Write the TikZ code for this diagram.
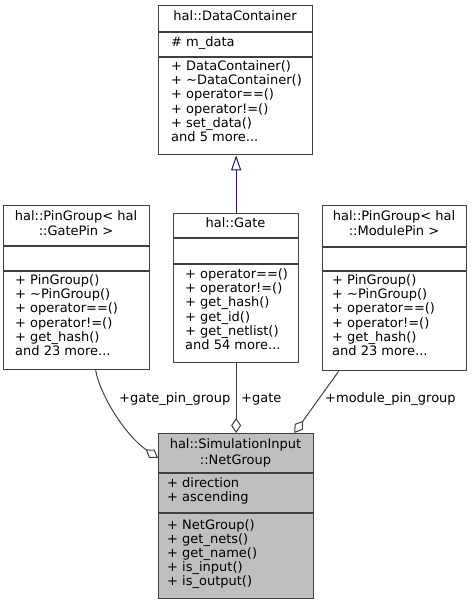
\documentclass[tikz,border=0pt]{standalone}
\usepackage{fontspec}
\newfontfamily\dv{DejaVu Sans}
\usetikzlibrary{arrows.meta}
\definecolor{linec}{HTML}{404040}
\definecolor{inhc}{HTML}{191970}
\definecolor{fillc}{HTML}{BFBFBF}
\newcommand\threedots{...}
\begin{document}
\begin{tikzpicture}[x=1pt,y=-1pt,
  box/.style={draw=linec, line width=1.3pt, inner sep=0, anchor=north west},
  sepline/.style={draw=linec, line width=1.3pt},
  txt/.style={font=\dv\fontsize{13}{14.2}\selectfont, inner sep=0, text=black},
  mem/.style={txt, anchor=mid west},
  ttl/.style={txt, anchor=mid},
  lab/.style={txt, anchor=mid west},
  agg/.style={draw=linec, line width=1pt, arrows={-{Diamond[open,length=15pt,width=10pt,line width=1pt]}}},
  inh/.style={draw=inhc, line width=1pt, arrows={-{Triangle[open,length=15pt,width=10pt,line width=1pt]}}}
]
\useasboundingbox (0,0) rectangle (472,604);

% ---------- hal::DataContainer ----------
\node[box, minimum width=154pt, minimum height=149pt] (dc) at (158,5) {};
\draw[sepline] (dc.west |- 0,32) -- (dc.east |- 0,32);
\draw[sepline] (dc.west |- 0,57) -- (dc.east |- 0,57);
\node[ttl] (dct) at (235,18) {hal::DataContainer};
\node[mem] (dca) at (171,44) {\# m\_data};
\foreach \t [count=\i] in {+ DataContainer(), + \textasciitilde DataContainer(), + operator==(), + operator!=(), + set\_data(), and 5 more\threedots}
  \node[mem] (dcm\i) at (171,{68+14.3*(\i-1)}) {\t};

% ---------- hal::PinGroup< hal::GatePin > ----------
\node[box, minimum width=146pt, minimum height=164pt] (pgg) at (3,205) {};
\draw[sepline] (pgg.west |- 0,246) -- (pgg.east |- 0,246);
\draw[sepline] (pgg.west |- 0,271) -- (pgg.east |- 0,271);
\node[ttl] (pggt1) at (76,218) {hal::PinGroup< hal};
\node[ttl] (pggt2) at (76,233) {::GatePin >};
\foreach \t [count=\i] in {+ PinGroup(), + \textasciitilde PinGroup(), + operator==(), + operator!=(), + get\_hash(), and 23 more\threedots}
  \node[mem] (pggm\i) at (15,{282+14.3*(\i-1)}) {\t};

% ---------- hal::Gate ----------
\node[box, minimum width=125pt, minimum height=149pt] (gate) at (173,213) {};
\draw[sepline] (gate.west |- 0,238) -- (gate.east |- 0,238);
\draw[sepline] (gate.west |- 0,264) -- (gate.east |- 0,264);
\node[ttl] (gatet) at (235.5,225) {hal::Gate};
\foreach \t [count=\i] in {+ operator==(), + operator!=(), + get\_hash(), + get\_id(), + get\_netlist(), and 54 more\threedots}
  \node[mem] (gatem\i) at (185,{276+14.3*(\i-1)}) {\t};

% ---------- hal::PinGroup< hal::ModulePin > ----------
\node[box, minimum width=144pt, minimum height=165pt] (pgm) at (322,205) {};
\draw[sepline] (pgm.west |- 0,247) -- (pgm.east |- 0,247);
\draw[sepline] (pgm.west |- 0,271) -- (pgm.east |- 0,271);
\node[ttl] (pgmt1) at (394,218) {hal::PinGroup< hal};
\node[ttl] (pgmt2) at (394,233) {::ModulePin >};
\foreach \t [count=\i] in {+ PinGroup(), + \textasciitilde PinGroup(), + operator==(), + operator!=(), + get\_hash(), and 23 more\threedots}
  \node[mem] (pgmm\i) at (332,{282+14.3*(\i-1)}) {\t};

% ---------- hal::SimulationInput::NetGroup ----------
\node[box, fill=fillc, minimum width=155pt, minimum height=165pt] (ng) at (158,433) {};
\draw[sepline] (ng.west |- 0,473) -- (ng.east |- 0,473);
\draw[sepline] (ng.west |- 0,513) -- (ng.east |- 0,513);
\node[ttl] (ngt1) at (235.5,446) {hal::SimulationInput};
\node[ttl] (ngt2) at (235.5,462) {::NetGroup};
\node[mem] (nga1) at (167,485) {+ direction};
\node[mem] (nga2) at (167,499) {+ ascending};
\foreach \t [count=\i] in {+ NetGroup(), + get\_nets(), + get\_name(), + is\_input(), + is\_output()}
  \node[mem] (ngm\i) at (167,{527+14.2*(\i-1)}) {\t};

% ---------- connectors ----------
\draw[inh] (gate.north) -- (gate.north |- dc.south);
\draw[agg] (gate.south) -- (gate.south |- ng.north);
\draw[agg] ([xshift=19pt]pgg.south) .. controls (100,395) and (125,435) .. ([yshift=-25pt]ng.north west);
\draw[agg] ([xshift=-56pt]pgm.south) -- ([xshift=-20pt]ng.north east);

\node[lab] (l1) at (119,400) {+gate\_pin\_group};
\node[lab] (l2) at (241,400) {+gate};
\node[lab] (l3) at (325,400) {+module\_pin\_group};
\end{tikzpicture}
\end{document}
